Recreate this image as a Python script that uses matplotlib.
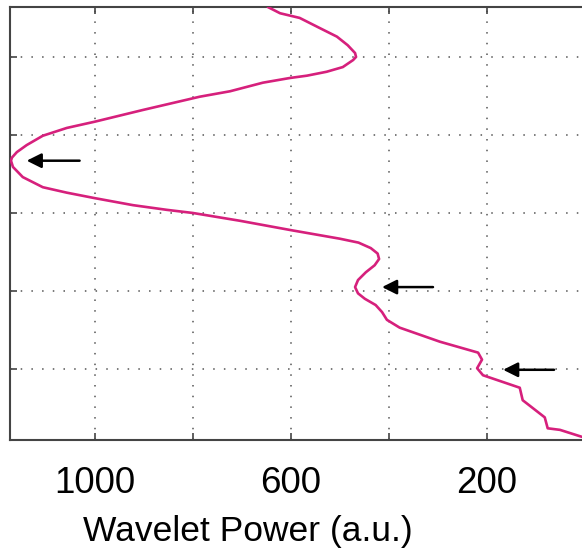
import numpy as np
import matplotlib
matplotlib.use("Agg")
import matplotlib.pyplot as plt

plt.rcParams['font.family'] = ['Liberation Sans', 'DejaVu Sans']

# wavelet power profile (top to bottom)
power = [647, 622, 582, 541, 506, 484, 469, 467, 473, 494, 527, 567, 602, 657,
         724, 786, 902, 1000, 1057, 1106, 1139, 1159, 1169, 1171, 1167, 1147,
         1106, 1057, 1000, 922, 853, 800, 704, 600, 500, 462, 437, 423, 420, 429,
         447, 463, 469, 463, 449, 427, 414, 404, 378, 296, 218, 210, 220, 208,
         133, 127, 82, 76, 51, 6]
period = [5.64, 5.56, 5.50, 5.37, 5.26, 5.15, 5.05, 5.00, 4.96, 4.87, 4.81, 4.76,
          4.73, 4.67, 4.56, 4.49, 4.32, 4.17, 4.09, 3.99, 3.87, 3.78, 3.71, 3.67,
          3.59, 3.46, 3.33, 3.26, 3.19, 3.10, 3.04, 3.00, 2.90, 2.78, 2.67, 2.62,
          2.55, 2.48, 2.41, 2.33, 2.24, 2.14, 2.05, 1.97, 1.90, 1.82, 1.73, 1.63,
          1.53, 1.35, 1.21, 1.12, 1.01, 0.92, 0.76, 0.60, 0.38, 0.24, 0.22, 0.13]

# arrows marking the peaks: (tip power, tail power, period)
arrow_tip = [1139, 414, 167]
arrow_tail = [1031, 310, 63]
arrow_period = [3.67, 2.05, 0.99]

xticks = [1000, 800, 600, 400, 200]
xticklabels = ['1000', '', '600', '', '200']
yticks = [1, 2, 3, 4, 5]

fig = plt.figure(figsize=(5.82, 5.52), dpi=100)
ax = fig.add_axes([10 / 582, 112 / 552, 572 / 582, 433 / 552])

ax.plot(power, period, color='#d6207c', lw=1.9, solid_joinstyle='round',
        solid_capstyle='round', zorder=3)

for tip, tail, p in zip(arrow_tip, arrow_tail, arrow_period):
    ax.annotate('', xy=(tip, p), xytext=(tail, p),
                arrowprops=dict(arrowstyle='-|>', color='black', lw=1.8,
                                mutation_scale=22, shrinkA=0, shrinkB=0),
                zorder=4)

ax.set_xlim(1173, 6)
ax.set_ylim(0.09, 5.64)
ax.set_xticks(xticks)
ax.set_xticklabels(xticklabels, fontsize=26.5)
ax.set_yticks(yticks)
ax.set_yticklabels([])
ax.tick_params(direction='in', length=5, width=1.2, color='#444444',
               top=True, pad=19)
ax.grid(True, color='#555555', linestyle=(0, (1, 6)), lw=1.1)

for s in ['left', 'bottom', 'top']:
    ax.spines[s].set_color('#444444')
    ax.spines[s].set_linewidth(1.5)
ax.spines['right'].set_visible(False)

ax.set_xlabel('Wavelet Power (a.u.)', fontsize=25.5)
ax.xaxis.label.set_va('center')
ax.xaxis.set_label_coords(238 / 572, -92 / 433)

fig.savefig('out.png', dpi=100)
